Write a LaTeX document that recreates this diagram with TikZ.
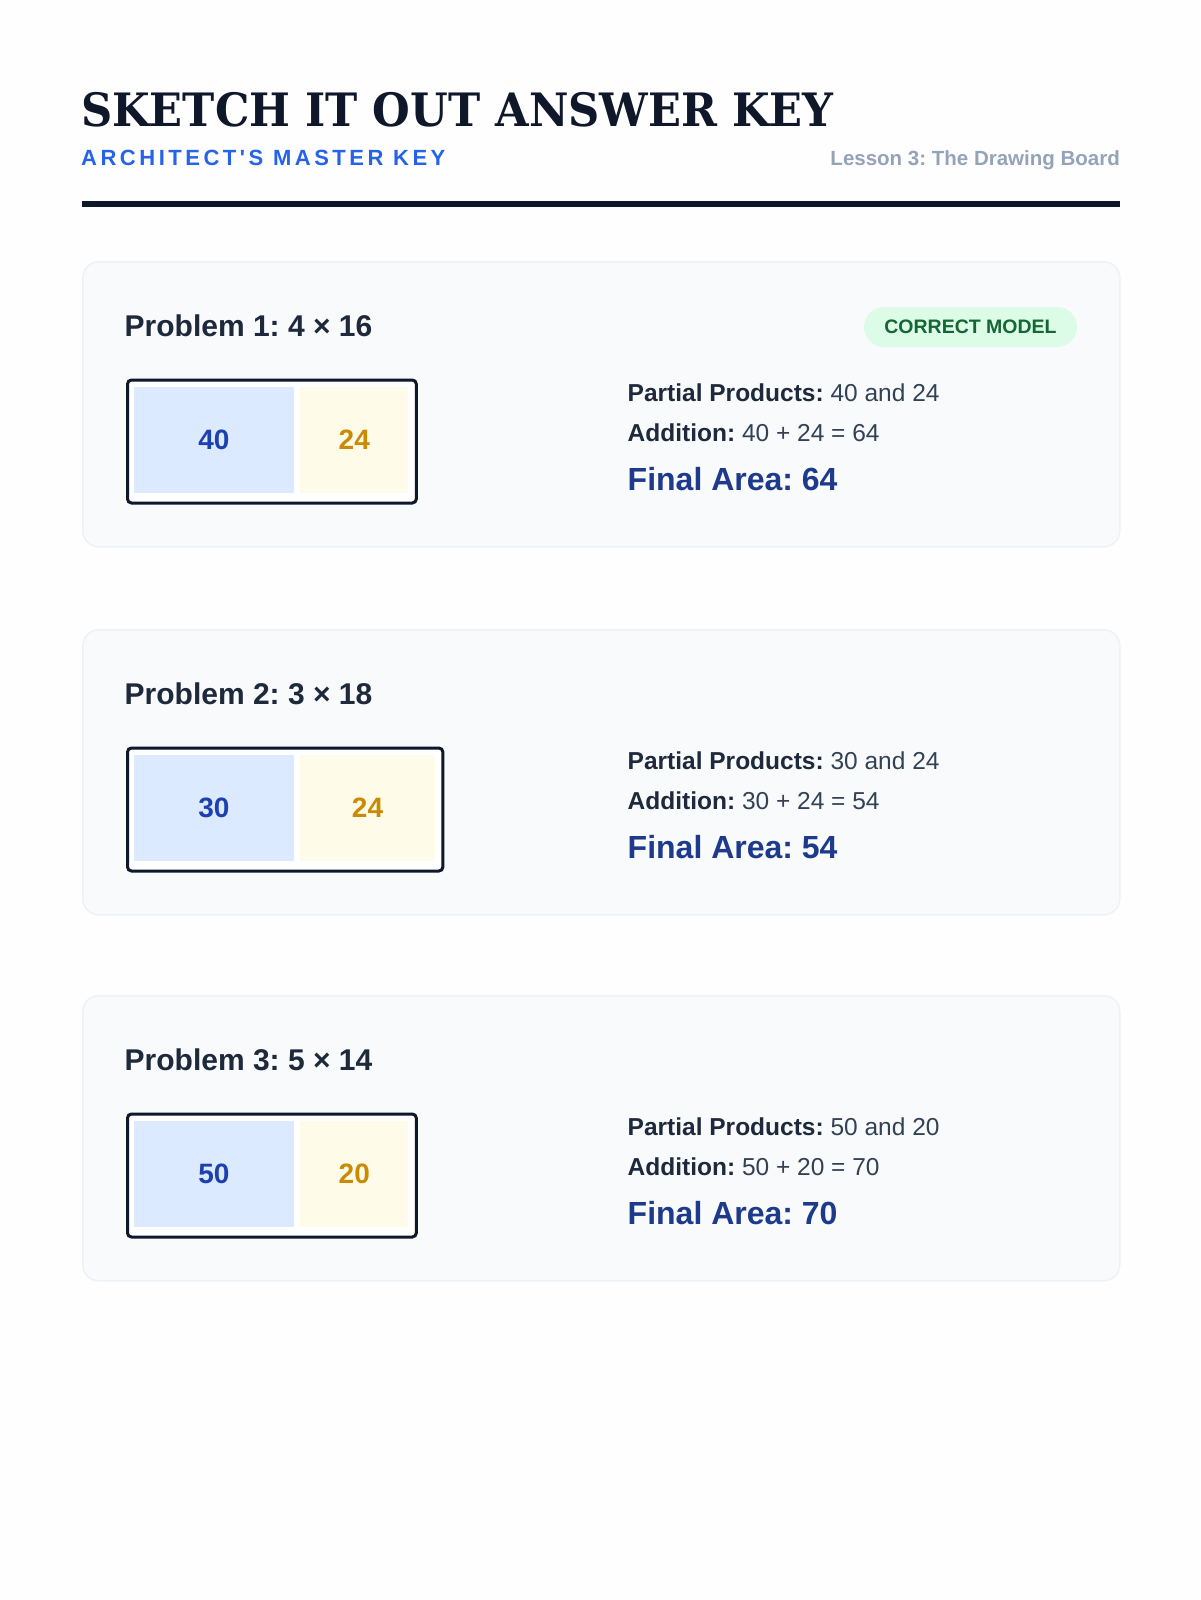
\documentclass[tikz,border=0pt]{standalone}
\usepackage{fontspec}
\setmainfont{Liberation Sans}
\newfontfamily\slabfont{DejaVu Serif}
\newfontfamily\trackedfont[LetterSpace=16]{Liberation Sans}
\usepackage{tikz}
\usetikzlibrary{positioning}
\usepackage{xcolor}
\definecolor{akpage}{RGB}{254,254,254}
\definecolor{aknavy}{RGB}{15,23,42}
\definecolor{akblue}{RGB}{37,99,235}
\definecolor{akgray}{RGB}{148,163,184}
\definecolor{akcard}{RGB}{248,250,252}
\definecolor{akcardline}{RGB}{238,242,247}
\definecolor{akslate}{RGB}{30,41,59}
\definecolor{akslatemid}{RGB}{51,65,85}
\definecolor{akgreen}{RGB}{22,101,52}
\definecolor{akgreenbg}{RGB}{220,252,231}
\definecolor{akcellblue}{RGB}{219,234,254}
\definecolor{akcellyellow}{RGB}{254,252,232}
\definecolor{aknumblue}{RGB}{30,64,175}
\definecolor{aknumgold}{RGB}{202,138,4}
\definecolor{akdeepblue}{RGB}{30,58,138}
\tikzstyle{card} = [rectangle, rounded corners=16pt, anchor=north west, minimum width=1037pt, minimum height=285pt, draw=akcardline, line width=1.5pt, fill=akcard, inner sep=0pt]
\tikzstyle{modelbox} = [rectangle, rounded corners=4pt, anchor=north west, minimum height=123pt, draw=aknavy, line width=3pt, fill=white, inner sep=0pt]
\tikzstyle{tenscell} = [rectangle, anchor=north west, minimum width=160pt, minimum height=106pt, fill=akcellblue, text=aknumblue, font=\fontsize{28}{32}\selectfont\bfseries, inner sep=0pt]
\tikzstyle{onescell} = [rectangle, anchor=north west, minimum height=106pt, fill=akcellyellow, text=aknumgold, font=\fontsize{28}{32}\selectfont\bfseries, inner sep=0pt]
\tikzstyle{probtitle} = [anchor=base west, inner sep=0pt, text=akslate, font=\fontsize{30}{34}\selectfont\bfseries]
\tikzstyle{infoline} = [anchor=base west, inner sep=0pt, text=akslatemid, font=\fontsize{24.5}{28}\selectfont]
\tikzstyle{finalline} = [anchor=base west, inner sep=0pt, text=akdeepblue, font=\fontsize{32}{36}\selectfont\bfseries]
\tikzstyle{badge} = [rectangle, rounded corners=20pt, minimum width=213pt, minimum height=40pt, fill=akgreenbg, text=akgreen, font=\fontsize{19.5}{22}\selectfont\bfseries, inner sep=0pt]

\begin{document}
\frenchspacing
\begin{tikzpicture}[x=1pt, y=-1pt]
    \useasboundingbox (0,0) rectangle (1200,1600);
    \fill[akpage] (0,0) rectangle (1200,1600);

    % Header
    \node[anchor=base west, inner sep=0pt, text=aknavy, font=\slabfont\bfseries\fontsize{46}{50}\selectfont] (title) at (81,126.7) {\scalebox{0.94}[1]{SKETCH IT OUT ANSWER KEY}};
    \node[anchor=base west, inner sep=0pt, text=akblue, font=\trackedfont\bfseries\fontsize{22}{26}\selectfont] (subtitle) at (81,165) {ARCHITECT'S MASTER KEY};
    \node[anchor=base east, inner sep=0pt, text=akgray, font=\fontsize{20.5}{24}\selectfont\bfseries] (lesson) at (1120,165.5) {Lesson 3: The Drawing Board};
    \draw[aknavy, line width=6pt] (81.5,204) -- (1119.5,204);

    % Problem 1
    \node[card] (card1) at (82,261) {};
    \node[probtitle] (prob1) at (124.5,336.7) {Problem 1: 4 × 16};
    \node[badge] (badge1) at (970.5,327) {CORRECT MODEL};
    \node[modelbox, minimum width=288.8pt] (box1) at (126,378.5) {};
    \node[tenscell] (tens1) at (133.7,387) {40};
    \node[onescell, minimum width=108.2pt] (ones1) at (300,387) {24};
    \node[infoline] (parts1) at (627.5,401.7) {\textcolor{akslate}{\bfseries Partial Products:} 40 and 24};
    \node[infoline] (add1) at (627.5,441.7) {\textcolor{akslate}{\bfseries Addition:} 40 + 24 = 64};
    \node[finalline] (final1) at (627.5,490) {Final Area: 64};

    % Problem 2
    \node[card] (card2) at (82,629) {};
    \node[probtitle] (prob2) at (124.5,704.7) {Problem 2: 3 × 18};
    \node[modelbox, minimum width=315.4pt] (box2) at (126,746.5) {};
    \node[tenscell] (tens2) at (133.7,755) {30};
    \node[onescell, minimum width=134.7pt] (ones2) at (300,755) {24};
    \node[infoline] (parts2) at (627.5,769.7) {\textcolor{akslate}{\bfseries Partial Products:} 30 and 24};
    \node[infoline] (add2) at (627.5,809.7) {\textcolor{akslate}{\bfseries Addition:} 30 + 24 = 54};
    \node[finalline] (final2) at (627.5,858) {Final Area: 54};

    % Problem 3
    \node[card] (card3) at (82,995) {};
    \node[probtitle] (prob3) at (124.5,1070.7) {Problem 3: 5 × 14};
    \node[modelbox, minimum width=288.8pt] (box3) at (126,1112.5) {};
    \node[tenscell] (tens3) at (133.7,1121) {50};
    \node[onescell, minimum width=108.2pt] (ones3) at (300,1121) {20};
    \node[infoline] (parts3) at (627.5,1135.7) {\textcolor{akslate}{\bfseries Partial Products:} 50 and 20};
    \node[infoline] (add3) at (627.5,1175.7) {\textcolor{akslate}{\bfseries Addition:} 50 + 20 = 70};
    \node[finalline] (final3) at (627.5,1224) {Final Area: 70};
\end{tikzpicture}
\end{document}
